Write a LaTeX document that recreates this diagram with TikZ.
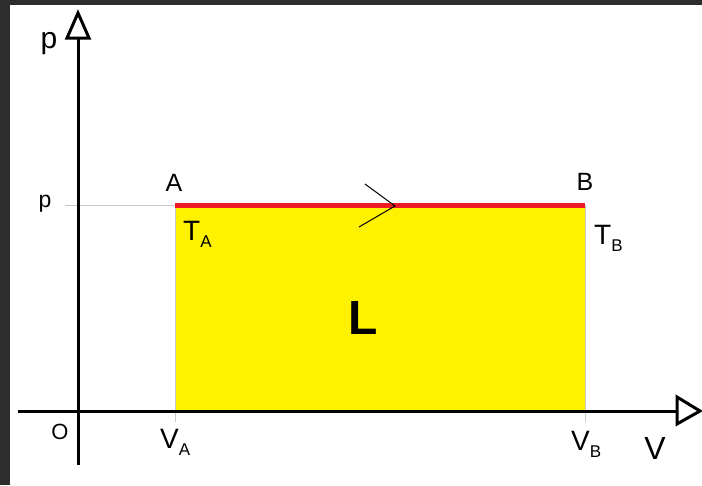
\documentclass[tikz,border=0pt]{standalone}
\usepackage{fontspec}
\setmainfont{Liberation Sans}
\definecolor{frame}{HTML}{2D2D2D}
\definecolor{fillyel}{HTML}{FFF200}
\definecolor{redline}{HTML}{ED1C24}
\definecolor{guide}{HTML}{C8C8C8}
\newcommand{\mysub}[1]{\raisebox{-0.28em}{\fontsize{17}{17}\selectfont #1}}
\begin{document}
\begin{tikzpicture}[x=1pt,y=-1pt,
  axis/.style={line width=3pt},
  tip/.style={line width=3pt,fill=white,line join=miter},
  guideline/.style={guide,line width=1pt},
  lab/.style={inner sep=0pt,font=\fontsize{25}{25}\selectfont},
  sublab/.style={inner sep=0pt,font=\fontsize{28}{28}\selectfont}]
\useasboundingbox (0,0) rectangle (702,485);
\fill[white] (0,0) rectangle (702,485);
\fill[frame] (0,0) rectangle (702,5);
\fill[frame] (0,0) rectangle (10,485);
% region
\coordinate (PA) at (175,205);
\coordinate (PB) at (585,205);
\coordinate (VAx) at (175,411);
\coordinate (VBx) at (585,411);
\fill[fillyel] (PA) rectangle (VBx);
% guides
\coordinate (pt) at (65,205);
\draw[guideline] (pt) -- (PA);
\draw[guideline] (PA) -- (175,422);
\draw[guideline] (PB) -- (585,422);
% axes
\coordinate (ytop) at (78,38);
\coordinate (ybot) at (78,465);
\coordinate (xl) at (18,411);
\coordinate (xr) at (677,411);
\draw[axis] (ybot) -- (ytop);
\draw[axis] (xl) -- (xr);
\draw[tip] (67,38) -- (78,13) -- (89,38) -- cycle;
\draw[tip] (677,397) -- (700,411) -- (677,424) -- cycle;
% process line
\draw[redline,line width=5pt] (PA) -- (PB);
\coordinate (c1) at (365,184);
\coordinate (c2) at (395,206);
\coordinate (c3) at (359,227);
\draw[line width=1pt] (c1) -- (c2) -- (c3);
% labels
\node[lab,font=\fontsize{30}{30}\selectfont] (plab) at (49,44) {p};
\node[lab,font=\fontsize{23}{23}\selectfont] (ptick) at (45,204) {p};
\node[lab] (A) at (174,183) {A};
\node[lab] (B) at (585,182) {B};
\node[sublab,anchor=base west] (TA) at (183,240) {T\mysub{A}};
\node[sublab,anchor=base west] (TB) at (594,244) {T\mysub{B}};
\node[inner sep=0pt,font=\fontsize{48}{48}\selectfont\bfseries] (L) at (363,318) {L};
\node[lab,font=\fontsize{22}{22}\selectfont] (O) at (60,432) {O};
\node[sublab,anchor=base west] (VA) at (160,448) {V\mysub{A}};
\node[sublab,anchor=base west] (VB) at (571,450) {V\mysub{B}};
\node[lab,font=\fontsize{32}{32}\selectfont] (V) at (655,448) {V};
\end{tikzpicture}
\end{document}
